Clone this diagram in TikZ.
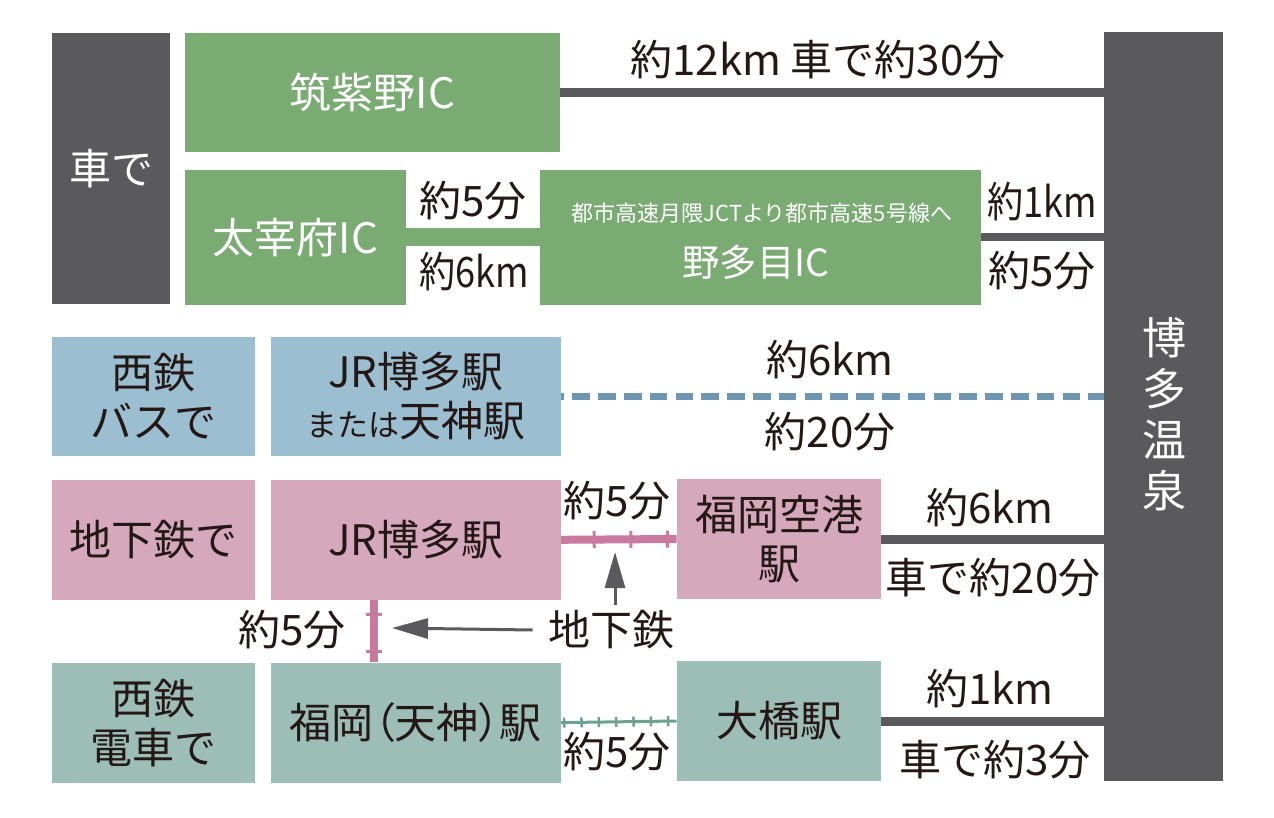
\documentclass[tikz,border=0pt]{standalone}
\usepackage{fontspec}
\setmainfont{Noto Sans CJK JP}
\newfontfamily\paltfont{Noto Sans CJK JP}[RawFeature=+palt]
\usepackage{xcolor}
\usepackage{graphicx}
\usetikzlibrary{positioning,arrows.meta,decorations.markings}

\definecolor{roadgray}{HTML}{5A5A5C}
\definecolor{icgreen}{HTML}{7AAB73}
\definecolor{busblue}{HTML}{9BBFD1}
\definecolor{buslineblue}{HTML}{6E96B1}
\definecolor{subpink}{HTML}{D6A8BC}
\definecolor{sublinepink}{HTML}{C97B9F}
\definecolor{trainteal}{HTML}{9DBDB7}
\definecolor{trainlineteal}{HTML}{6DA291}
\definecolor{inkblack}{HTML}{231815}

\newcommand{\narrowtext}[1]{\scalebox{0.86}[1]{#1}}

\begin{document}
\begin{tikzpicture}[
        x=0.5pt, y=-0.5pt,
        font=\fontsize{21}{24.5}\selectfont,
        text=inkblack,
        inner sep=0pt,
        boxsize/.style 2 args={minimum width=#1*0.5pt, minimum height=#2*0.5pt},
        box/.style={rectangle, align=center},
        darkbox/.style={box, fill=roadgray, text=white},
        greenbox/.style={box, fill=icgreen, text=white},
        bluebox/.style={box, fill=busblue, boxsize={203}{119}},
        pinkbox/.style={box, fill=subpink, boxsize={203}{120}},
        tealbox/.style={box, fill=trainteal, boxsize={203}{120}},
        road/.style={draw=roadgray, line width=4.5pt},
        icroad/.style={draw=icgreen, line width=9pt},
        busline/.style={draw=buslineblue, line width=3.5pt, dash pattern=on 8.85pt off 4.05pt, dash phase=7.35pt},
        subline/.style={draw=sublinepink, line width=4pt},
        trainline/.style={draw=trainlineteal, line width=1.5pt},
        walk/.style={draw=roadgray, line width=1.5pt, -{Triangle[length=18pt, width=10pt]}}]

        \useasboundingbox (0,0) rectangle (1274,818);

        % NODES
        % car
        \node[darkbox, boxsize={118}{271}] (car) at (111,168.5) {車で};
        \node[greenbox, boxsize={375}{119}] (chikushino) at (372.5,92.5) {筑紫野IC};
        \node[greenbox, boxsize={221}{135}] (dazaifu) at (295.5,237.5) {太宰府IC};
        \node[greenbox, boxsize={441}{135}] (notame) at (760.5,237.5) {};
        \node[text=white, font=\fontsize{11}{13}\selectfont] (notame_via) at (762,213) {都市高速月隈JCTより都市高速5号線へ};
        \node[text=white, font=\fontsize{18.7}{22}\selectfont] (notame_name) at (756,262) {野多目IC};

        % onsen
        \node[darkbox, boxsize={119}{748}] (hakata) at (1163.5,406.5) {};
        \node[text=white, align=center, font=\fontsize{22}{25.5}\selectfont] (hakata_name) at (1164,414) {博\\多\\温\\泉};

        % bus
        \node[bluebox] (bus) at (153.5,396.5) {西鉄\\バスで};
        \node[bluebox, boxsize={290}{119}, right = 7.5pt of bus] (busjr) {JR博多駅\\{\fontsize{15.5}{24.5}\selectfont または}天神駅};

        % subway
        \node[pinkbox, below = 11.5pt of bus] (subway) {地下鉄で};
        \node[pinkbox, boxsize={290}{120}, right = 7.5pt of subway] (subjr) {JR博多駅};
        \node[pinkbox, boxsize={204}{120}] (airport) at (779,539) {福岡空港\\駅};

        % train
        \node[tealbox, below = 31pt of subway] (train) {西鉄\\電車で};
        \node[tealbox, boxsize={290}{120}, right = 7.5pt of train] (tenjin) {{\paltfont 福岡（天神）駅}};
        \node[tealbox, boxsize={204}{120}] (ohashi) at (779,721) {大橋駅};

        % captions
        \node (chikushino_cap) at (818,60) {約12km 車で約30分};
        \node (dazaifu_time) at (473,201) {約5分};
        \node (dazaifu_dist) at (474,272) {\narrowtext{約6km}};
        \node (notame_dist) at (1042,202) {\narrowtext{約1km}};
        \node (notame_time) at (1042,271) {約5分};
        \node (bus_dist) at (830,360) {約6km};
        \node (bus_time) at (830,432) {約20分};
        \node (subway_time) at (617,501) {約5分};
        \node (airport_dist) at (990,508) {約6km};
        \node (airport_time) at (993,578) {車で約20分};
        \node[inner xsep=7.5pt, inner ysep=2.5pt] (transfer) at (611,630) {地下鉄};
        \node (transfer_time) at (292,630) {約5分};
        \node (train_time) at (617,752) {約5分};
        \node (ohashi_dist) at (990,689) {約1km};
        \node (ohashi_time) at (995,760) {車で約3分};
        \coordinate (transfer_end) at (392,628);
        \coordinate (subway_end) at (615,552);

        % LINES
        \draw[road] (chikushino.east) -- (chikushino.east -| hakata.west);
        \draw[icroad] (dazaifu.east) -- (notame.west);
        \draw[road, line width=4pt] (notame.east) -- (notame.east -| hakata.west);
        \draw[busline] (busjr.east) -- (busjr.east -| hakata.west);
        \draw[subline, postaction={decorate, decoration={markings,
                mark=between positions 16.5pt and 54pt step 18.3pt with {\draw[sublinepink, line width=1.5pt] (0pt,-4.25pt) -- (0pt,4.25pt);}}}]
            (subjr.east) -- (airport.west);
        \draw[subline, postaction={decorate, decoration={markings,
                mark=between positions 7pt and 26pt step 18.5pt with {\draw[sublinepink, line width=1.5pt] (0pt,-4pt) -- (0pt,4pt);}}}]
            ([xshift=-21pt]subjr.south) -- ([xshift=-21pt]tenjin.north);
        \draw[trainline, postaction={decorate, decoration={markings,
                mark=between positions 1.5pt and 54pt step 8.667pt with {\draw[trainlineteal, line width=1.25pt] (0pt,-2.5pt) -- (0pt,2.5pt);}}}]
            (tenjin.east) -- (ohashi.west);
        \draw[road] (airport.east) -- (airport.east -| hakata.west);
        \draw[road] (ohashi.east) -- (ohashi.east -| hakata.west);

        % ARROWS
        \draw[walk] (transfer.west) -- (transfer_end);
        \draw[walk] ([xshift=2pt]transfer.north) -- (subway_end);
\end{tikzpicture}
\end{document}
